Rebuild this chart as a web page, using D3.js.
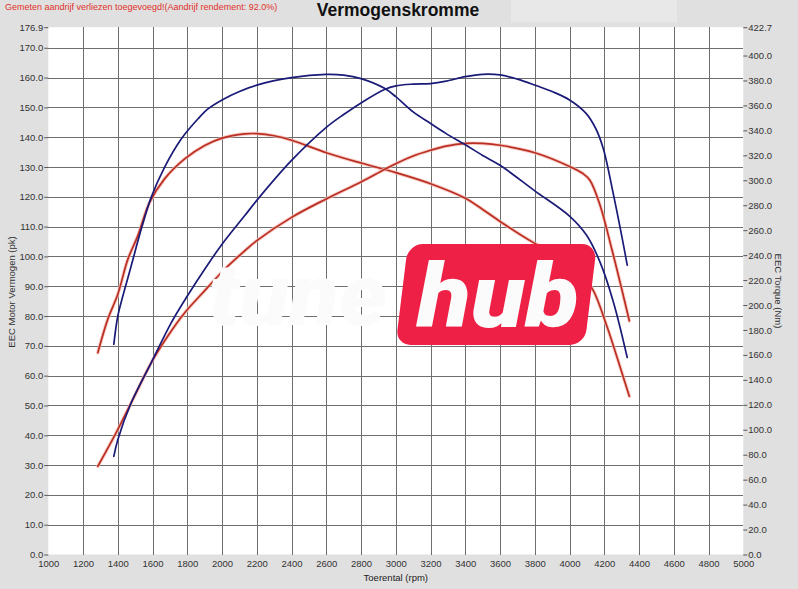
<!DOCTYPE html>
<html>
<head>
<meta charset="utf-8">
<script src="https://cdn.jsdelivr.net/npm/d3@7/dist/d3.min.js"></script>
<style>
  html, body { margin: 0; padding: 0; background: #e0e0e0; }
  svg { display: block; font-family: "Liberation Sans", Arial, sans-serif; }
</style>
</head>
<body>
<svg id="chart" width="798" height="589"></svg>
<script>
// ---- Data ----
const title = "Vermogenskromme";
const note = "Gemeten aandrijf verliezen toegevoegd!(Aandrijf rendement: 92.0%)";
const xLabel = "Toerental (rpm)";
const yLeftLabel = "EEC Motor Vermogen (pk)";
const yRightLabel = "EEC Torque (Nm)";

const xTicks = [1000,1200,1400,1600,1800,2000,2200,2400,2600,2800,3000,3200,3400,3600,3800,4000,4200,4400,4600,4800,5000];
const yLeftTicks = [0,10,20,30,40,50,60,70,80,90,100,110,120,130,140,150,160,170,176.9];
const yRightTicks = [0,20,40,60,80,100,120,140,160,180,200,220,240,260,280,300,320,340,360,380,400,422.7];

// Tuned power (pk) - blue
const tunedPowerRpm = [1377,1400,1477,1592,1708,1800,1900,2000,2131,2200,2400,2600,2700,2800,2935,3000,3100,3200,3290,3400,3500,3600,3700,3800,3900,4000,4095,4150,4194,4250,4300,4332];
const tunedPowerPk  = [32.9,38.5,50.9,64.3,77.8,86.7,95.7,104.1,113.7,118.8,132.2,143.3,147.6,151.5,156.0,157.2,157.8,158.0,158.8,160.3,161.1,160.9,159.5,157.5,155.3,152.5,148.0,143.0,136.2,121.5,107.0,97.1];

// Tuned torque (Nm) - blue
const tunedTorqueRpm = [1377,1400,1429,1477,1535,1592,1669,1765,1862,1919,2000,2100,2200,2400,2600,2700,2800,2935,3000,3100,3200,3290,3400,3500,3600,3800,4000,4099,4176,4253,4332];
const tunedTorqueNm  = [168.5,191.2,207.2,231.3,260.9,286.3,310.4,333.1,349.3,357.2,364.4,371.1,376.3,382.3,384.9,384.3,381.5,373.7,367.0,354.8,345.5,337.4,328.5,319.9,312.0,291.5,271.2,255.7,234.2,202.1,157.9];

// Stock power (pk) - red
const stockPowerRpm = [1285,1390,1496,1592,1688,1785,1881,2015,2131,2200,2400,2600,2800,2935,3000,3100,3200,3290,3400,3500,3600,3800,4000,4077,4118,4176,4243,4300,4344];
const stockPowerPk  = [29.6,40.8,53.1,64.3,73.3,81.1,87.3,95.7,101.9,105.3,113.1,119.3,125.0,129.2,131.1,133.7,135.6,137.0,137.9,137.9,137.3,134.8,130.2,127.8,125.5,117.1,102.5,89.1,78.4];

// Stock torque (Nm) - red
const stockTorqueRpm = [1285,1342,1400,1458,1515,1583,1669,1785,1900,2000,2131,2200,2300,2400,2600,2800,3000,3200,3400,3500,3600,3790,3900,4000,4080,4137,4214,4271,4344];
const stockTorqueNm  = [161.8,188.5,208.6,236.8,255.4,282.2,301.1,317.1,327.8,333.8,337.2,337.4,335.7,332.1,322.1,313.8,306.1,297.2,285.6,276.6,267.0,250.2,241.8,232.3,222.2,211.5,183.3,159.1,126.9];

// ---- Layout ----
const svg = d3.select("#chart");
const W = 798, H = 589;
const plot = { left: 48.3, right: 743.3, top: 27.2, bottom: 554.5 };

const x = d3.scaleLinear().domain([1000, 5000]).range([plot.left, plot.right]);
const yL = d3.scaleLinear().domain([0, 176.9]).range([plot.bottom, plot.top]);
const yR = d3.scaleLinear().domain([0, 422.7]).range([plot.bottom, plot.top]);

// Background
svg.append("rect").attr("width", W).attr("height", H).attr("fill", "#e0e0e0");
svg.append("rect").attr("x", 511).attr("y", 0).attr("width", 166).attr("height", 22).attr("fill", "#e9e8e9");
svg.append("rect")
  .attr("x", plot.left).attr("y", plot.top)
  .attr("width", plot.right - plot.left).attr("height", plot.bottom - plot.top)
  .attr("fill", "#ffffff");

// Grid
const grid = svg.append("g").attr("stroke", "#6e6e6e").attr("stroke-width", 1).attr("shape-rendering", "crispEdges");
grid.selectAll("line.v").data(xTicks.filter(d => d > 1000 && d < 5000)).join("line")
  .attr("x1", d => Math.round(x(d)) + 0.5).attr("x2", d => Math.round(x(d)) + 0.5)
  .attr("y1", plot.top).attr("y2", plot.bottom);
grid.selectAll("line.h").data(yLeftTicks.filter(d => d > 0 && d < 176.9)).join("line")
  .attr("x1", plot.left).attr("x2", plot.right)
  .attr("y1", d => Math.round(yL(d)) + 0.5).attr("y2", d => Math.round(yL(d)) + 0.5);

// Axes
const fmt = d3.format(".1f");
const leftAxis = d3.axisLeft(yL).tickValues(yLeftTicks).tickFormat(fmt).tickSize(4).tickPadding(1);
const rightAxis = d3.axisRight(yR).tickValues(yRightTicks).tickFormat(fmt).tickSize(4).tickPadding(1);
const bottomAxis = d3.axisBottom(x).tickValues(xTicks).tickFormat(d3.format("d")).tickSize(0).tickPadding(6);

function styleAxis(g) {
  g.select(".domain").remove();
  g.selectAll(".tick line").attr("stroke", "#555");
  g.selectAll(".tick text").attr("fill", "#333").style("font-size", "9.5px").style("font-family", "'Liberation Sans', Arial, sans-serif");
}
svg.append("g").attr("transform", `translate(${plot.left},0)`).call(leftAxis).call(styleAxis);
svg.append("g").attr("transform", `translate(${plot.right},0)`).call(rightAxis).call(styleAxis);
svg.append("g").attr("transform", `translate(0,${plot.bottom})`).call(bottomAxis).call(styleAxis);

// Axis titles
svg.append("text").attr("x", (plot.left + plot.right) / 2).attr("y", 581)
  .attr("text-anchor", "middle").attr("fill", "#222").style("font-size", "9.5px").text(xLabel);
svg.append("text").attr("transform", `translate(15,292) rotate(-90)`)
  .attr("text-anchor", "middle").attr("fill", "#333").style("font-size", "9.5px").text(yLeftLabel);
svg.append("text").attr("transform", `translate(775,291) rotate(90)`)
  .attr("text-anchor", "middle").attr("fill", "#333").style("font-size", "9.5px").text(yRightLabel);

// Header texts
svg.append("text").attr("x", 5).attr("y", 10).attr("fill", "#e0302a").style("font-size", "9px").text(note);
svg.append("text").attr("x", 398).attr("y", 16).attr("text-anchor", "middle")
  .attr("fill", "#111").style("font-size", "17.5px").style("font-weight", "bold").text(title);

// Curves
function series(rpm, vals) { return rpm.map((r, i) => [r, vals[i]]); }
function drawCurve(data, yScale, color, halo) {
  const line = d3.line().x(d => x(d[0])).y(d => yScale(d[1])).curve(d3.curveCatmullRom.alpha(0.5));
  if (halo) {
    svg.append("path").datum(data).attr("d", line).attr("fill", "none")
      .attr("stroke", halo).attr("stroke-width", 3.6).attr("stroke-linecap", "round").attr("opacity", 0.7);
  }
  svg.append("path").datum(data).attr("d", line).attr("fill", "none")
    .attr("stroke", color).attr("stroke-width", 1.7).attr("stroke-linecap", "round").attr("stroke-linejoin", "round");
}
drawCurve(series(stockTorqueRpm, stockTorqueNm), yR, "#bb2e22", "#f4b8b0");
drawCurve(series(stockPowerRpm, stockPowerPk), yL, "#bb2e22", "#f4b8b0");
drawCurve(series(tunedTorqueRpm, tunedTorqueNm), yR, "#1a1a78", null);
drawCurve(series(tunedPowerRpm, tunedPowerPk), yL, "#1a1a78", null);

// Watermark
const wm = svg.append("g");
wm.append("text").attr("x", 209).attr("y", 325)
  .attr("textLength", 178).attr("lengthAdjust", "spacingAndGlyphs")
  .attr("fill", "#fbfbfb")
  .style("font-family", "Roboto, 'Open Sans', sans-serif").style("font-weight", "900").style("font-style", "italic")
  .style("font-size", "86px").text("tune");
const box = wm.append("g").attr("transform", "translate(408,244) skewX(-7)");
box.append("rect").attr("x", 0).attr("y", 0).attr("width", 189).attr("height", 101).attr("rx", 15)
  .attr("fill", "#ee2045");
wm.append("text").attr("x", 417).attr("y", 327)
  .attr("textLength", 162).attr("lengthAdjust", "spacingAndGlyphs")
  .attr("fill", "#fbfbfb")
  .style("font-family", "Roboto, 'Open Sans', sans-serif").style("font-weight", "900").style("font-style", "italic")
  .style("font-size", "88px").text("hub");
</script>
</body>
</html>
